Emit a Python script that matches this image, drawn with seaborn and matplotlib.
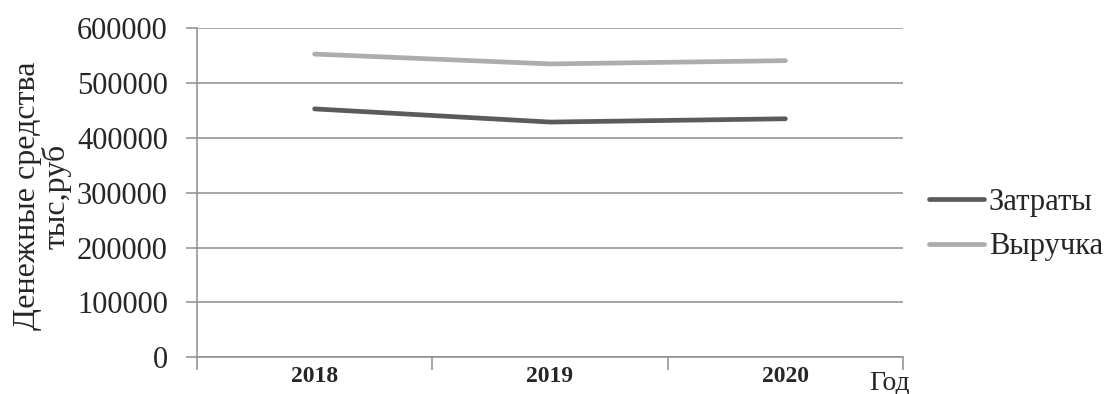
import matplotlib
matplotlib.use("Agg")
import matplotlib.pyplot as plt
from matplotlib.ticker import FixedLocator, NullFormatter, FixedFormatter
import seaborn as sns
import pandas as pd

# Annual figures, thousand roubles
years = ["2018", "2019", "2020"]
costs = [453000, 429000, 435000]
revenue = [553000, 535000, 541000]
series_names = ["Затраты", "Выручка"]
y_ticks = [0, 100000, 200000, 300000, 400000, 500000, 600000]

df = pd.DataFrame({
    "pos": list(range(len(years))) * 2,
    "value": costs + revenue,
    "series": [series_names[0]] * len(years) + [series_names[1]] * len(years),
})

sns.set_style("white")
plt.rcParams["font.family"] = ["Liberation Serif", "DejaVu Serif"]

grid_col = "#8e8e8e"
fig = plt.figure(figsize=(11.09, 3.94), dpi=100)
ax = fig.add_axes([0.1776, 0.0931, 0.6367, 0.8351])

sns.lineplot(data=df, x="pos", y="value", hue="series",
             palette={series_names[0]: "#5b5b5b", series_names[1]: "#adadad"},
             linewidth=3.4, ax=ax, solid_capstyle="round", legend=True)

ax.set_ylim(0, 600000)
ax.set_xlim(-0.5, len(years) - 0.5)

# y axis: outward ticks and horizontal grid
ax.set_yticks(y_ticks)
ax.set_yticklabels([str(v) for v in y_ticks])
ax.yaxis.grid(True, color=grid_col, linewidth=1.1)
ax.xaxis.grid(False)
ax.tick_params(axis="y", which="major", direction="out", length=8, width=1.1,
               color=grid_col, labelsize=22, pad=13, left=True)

# x axis: boundary ticks between categories, labels centred in each slot
ax.xaxis.set_major_locator(FixedLocator([i - 0.5 for i in range(len(years) + 1)]))
ax.xaxis.set_major_formatter(NullFormatter())
ax.xaxis.set_minor_locator(FixedLocator(list(range(len(years)))))
ax.xaxis.set_minor_formatter(FixedFormatter(years))
ax.tick_params(axis="x", which="major", direction="out", length=9, width=1.1,
               color=grid_col, bottom=True)
ax.tick_params(axis="x", which="minor", length=0, labelsize=17, pad=6)
for lab in ax.xaxis.get_minorticklabels():
    lab.set_fontweight("bold")

for side in ["top", "right"]:
    ax.spines[side].set_visible(False)
for side in ["left", "bottom"]:
    ax.spines[side].set_color(grid_col)
    ax.spines[side].set_linewidth(1.1)

ax.set_xlabel("")
ax.set_ylabel("Денежные средства\nтыс,руб", fontsize=23, va="center",
              linespacing=1.0)
ax.yaxis.set_label_coords(-0.219, 0.49)

fig.text(0.7836, 0.0102, "Год", fontsize=20, ha="left", va="baseline")

handles, labels = ax.get_legend_handles_labels()
ax.get_legend().remove()
fig.legend(handles, labels, loc="center left", bbox_to_anchor=(0.838, 0.43),
           frameon=False, fontsize=22, handlelength=1.8, handletextpad=0.15,
           labelspacing=0.5, borderpad=0, borderaxespad=0)

fig.savefig("out.png", dpi=100)
